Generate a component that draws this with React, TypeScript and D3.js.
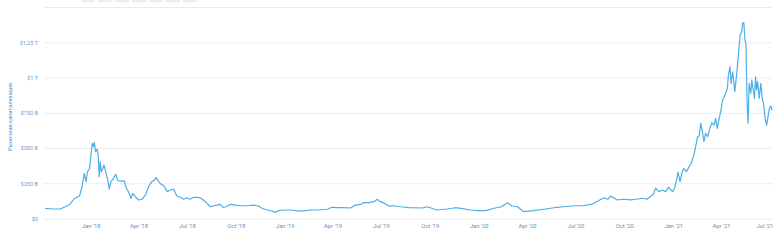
import React from "react";
import * as d3 from "d3";

const dates: string[] = [
  "2017-10-06","2017-10-22","2017-11-04","2017-11-13","2017-11-22","2017-11-29","2017-12-05","2017-12-10","2017-12-14","2017-12-19",
  "2017-12-22","2017-12-25","2017-12-29","2017-12-31","2018-01-03","2018-01-05","2018-01-07","2018-01-09","2018-01-12","2018-01-14",
  "2018-01-16","2018-01-18","2018-01-20","2018-01-23","2018-01-25","2018-01-29","2018-02-01","2018-02-04","2018-02-07","2018-02-12",
  "2018-02-16","2018-02-20","2018-02-28","2018-03-04","2018-03-08","2018-03-12","2018-03-17","2018-03-20","2018-03-26","2018-03-31",
  "2018-04-06","2018-04-13","2018-04-19","2018-04-25","2018-04-30","2018-05-03","2018-05-08","2018-05-12","2018-05-18","2018-05-24",
  "2018-05-30","2018-06-05","2018-06-11","2018-06-18","2018-06-24","2018-06-30","2018-07-06","2018-07-13","2018-07-19","2018-07-25",
  "2018-07-31","2018-08-07","2018-08-13","2018-08-19","2018-08-26","2018-09-01","2018-09-06","2018-09-12","2018-09-20","2018-09-29",
  "2018-10-09","2018-10-21","2018-11-03","2018-11-12","2018-11-18","2018-11-28","2018-12-07","2018-12-13","2018-12-20","2018-12-29",
  "2019-01-11","2019-01-23","2019-02-05","2019-02-17","2019-03-02","2019-03-21","2019-03-30","2019-04-09","2019-04-21","2019-05-04",
  "2019-05-13","2019-05-23","2019-05-29","2019-06-07","2019-06-17","2019-06-23","2019-06-29","2019-07-05","2019-07-15","2019-07-24",
  "2019-08-06","2019-08-22","2019-09-16","2019-09-25","2019-10-14","2019-11-02","2019-11-17","2019-11-27","2019-12-16","2019-12-31",
  "2020-01-13","2020-01-29","2020-02-12","2020-02-23","2020-03-03","2020-03-13","2020-03-25","2020-04-13","2020-05-02","2020-05-21",
  "2020-06-08","2020-06-27","2020-07-13","2020-08-01","2020-08-15","2020-08-23","2020-08-30","2020-09-04","2020-09-17","2020-09-29",
  "2020-10-12","2020-10-25","2020-11-03","2020-11-12","2020-11-19","2020-11-23","2020-11-28","2020-12-04","2020-12-11","2020-12-17",
  "2020-12-22","2020-12-30","2021-01-03","2021-01-07","2021-01-09","2021-01-13","2021-01-17","2021-01-20","2021-01-25","2021-01-30",
  "2021-02-03","2021-02-08","2021-02-12","2021-02-15","2021-02-18","2021-02-21","2021-02-24","2021-02-27","2021-03-02","2021-03-06",
  "2021-03-10","2021-03-14","2021-03-18","2021-03-21","2021-03-24","2021-03-27","2021-03-31","2021-04-03","2021-04-06","2021-04-09",
  "2021-04-12","2021-04-14","2021-04-17","2021-04-19","2021-04-22","2021-04-26","2021-04-30","2021-05-03","2021-05-06","2021-05-09",
  "2021-05-11","2021-05-13","2021-05-15","2021-05-17","2021-05-18","2021-05-19","2021-05-21","2021-05-23","2021-05-26","2021-05-28",
  "2021-06-02","2021-06-04","2021-06-06","2021-06-08","2021-06-11","2021-06-14","2021-06-17","2021-06-19","2021-06-22","2021-06-25",
  "2021-06-28","2021-06-30","2021-07-03","2021-07-05"
];

// market cap, billions USD
const values: number[] = [
  76,71,71,87,104,140,154,163,218,324,
  265,335,359,442,537,513,544,477,494,454,
  300,406,335,359,383,324,276,213,265,288,
  317,272,269,272,218,194,147,182,154,135,
  140,170,229,265,276,293,265,248,234,194,
  206,213,163,154,140,151,140,154,154,151,
  135,111,87,94,99,104,83,87,104,99,
  94,94,99,92,76,64,57,47,59,64,
  64,57,57,64,64,69,83,80,80,78,
  99,104,116,116,123,140,123,116,92,94,
  87,80,78,87,64,71,80,76,64,59,
  59,76,87,116,92,87,52,59,69,80,
  87,94,94,106,135,151,140,163,135,140,
  135,142,147,140,163,170,218,194,206,194,
  225,194,222,288,335,265,335,359,335,371,
  395,454,525,584,589,679,619,548,608,584,
  643,683,666,714,643,702,773,844,867,891,
  927,1021,1080,962,1044,903,1044,1175,1305,1328,
  1392,1392,1269,1246,1033,844,679,962,891,986,
  856,1009,915,974,856,962,844,820,714,666,
  737,785,801,773,808
];

const yTicks: number[] = [0, 250, 500, 750, 1000, 1250, 1500];
const yTickLabels: string[] = ["$0", "$250 B", "$500 B", "$750 B", "$1 T", "$1,25 T", ""];
const yTitle = "Рыночная капитализация";
const xDomain: string[] = ["2017-10-06", "2021-07-05"];

const W = 775;
const H = 242;
const FONT = "Roboto, 'Open Sans', sans-serif";

export default function App() {
  const parse = d3.timeParse("%Y-%m-%d");
  const data = dates.map((d, i) => ({ date: parse(d) as Date, value: values[i] }));
  const x = d3
    .scaleTime()
    .domain(xDomain.map((d) => parse(d) as Date))
    .range([45, 772]);
  const y = d3.scaleLinear().domain([0, 1500]).range([219, 7.5]);
  const line = d3
    .line<{ date: Date; value: number }>()
    .x((d) => x(d.date))
    .y((d) => y(d.value));
  const xTicks = x.ticks(d3.timeMonth.every(3) as any);
  const fmt = d3.timeFormat("%b '%y");
  const buttons = [81, 98, 115, 132, 149, 166, 183];

  return (
    <svg
      width={W}
      height={H}
      style={{ position: "fixed", left: 0, top: 0, background: "#fff" }}
      fontFamily={FONT}
    >
      <rect x={0} y={0} width={W} height={H} fill="#fff" />
      {buttons.map((bx, i) => (
        <rect key={i} x={bx} y={-3} width={14} height={5.5} rx={1.5} fill="#efefef" />
      ))}
      {yTicks.map((t, i) => (
        <g key={t}>
          <line x1={44} x2={772} y1={y(t)} y2={y(t)} stroke="#ececec" strokeWidth={1} />
          {yTickLabels[i] && (
            <text
              x={38}
              y={y(t)}
              dy="0.35em"
              textAnchor="end"
              fontSize={5.6}
              fill="#6a9fd2"
            >
              {yTickLabels[i]}
            </text>
          )}
        </g>
      ))}
      <text
        transform={`translate(10,117) rotate(-90)`}
        textAnchor="middle"
        dy="0.35em"
        fontSize={5.6}
        fill="#3f8fd2"
      >
        {yTitle}
      </text>
      {xTicks.map((t, i) => (
        <text
          key={i}
          x={Math.min(x(t), 765)}
          y={226}
          dy="0.35em"
          textAnchor="middle"
          fontSize={5.8}
          fill="#6b8fb5"
        >
          {fmt(t)}
        </text>
      ))}
      <path
        d={line(data) || ""}
        fill="none"
        stroke="#4eaee6"
        strokeWidth={1.2}
        strokeLinejoin="round"
      />
    </svg>
  );
}
